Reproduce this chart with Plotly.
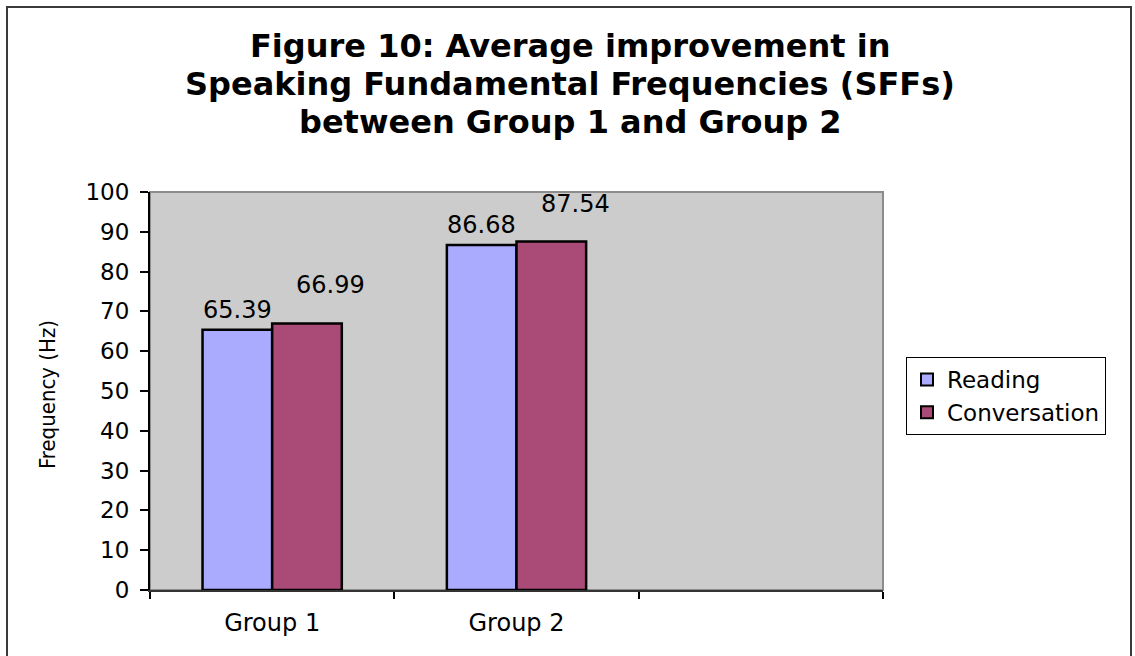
import plotly.graph_objects as go

# Chart data
groups = ["Group 1", "Group 2"]
axis_categories = ["Group 1", "Group 2", " "]
series_names = ["Reading", "Conversation"]
reading = [65.39, 86.68]
conversation = [66.99, 87.54]
y_ticks = [0, 10, 20, 30, 40, 50, 60, 70, 80, 90, 100]
title_lines = [
    "Figure 10: Average improvement in",
    "Speaking Fundamental Frequencies (SFFs)",
    "between Group 1 and Group 2",
]

colors = {"Reading": "#AAAAFF", "Conversation": "#A94A77"}
FONT = "DejaVu Sans, Verdana, sans-serif"
TXT = 24
BARGAP = 0.43

W, H = 1135, 656
L, R, T, B = 150, 883, 192, 590  # plot area in pixels


def px_x(px):
    return (px - L) / (R - L)


def px_y(py):
    return (B - py) / (B - T)


fig = go.Figure()
for name, vals in zip(series_names, [reading, conversation]):
    fig.add_trace(go.Bar(
        name=name, x=groups, y=vals,
        marker=dict(color=colors[name], line=dict(color="#000000", width=2.5)),
        hoverinfo="x+y+name",
    ))

# value labels above each bar (reading centered, conversation set off to the right)
half = (1 - BARGAP) / 4
label_style = {"Reading": (0, 20), "Conversation": (24, 38)}
annotations = []
for s, (name, vals) in enumerate(zip(series_names, [reading, conversation])):
    dx, dy = label_style[name]
    for i, v in enumerate(vals):
        xc = i + (-half if s == 0 else half)
        annotations.append(dict(
            x=xc, y=v, xref="x", yref="y", text=f"{v:.2f}", showarrow=False,
            xanchor="center", yanchor="middle", xshift=dx, yshift=dy,
            font=dict(family=FONT, size=TXT, color="#000000"),
        ))

# three-line bold title with tight line spacing
for k, line in enumerate(title_lines):
    annotations.append(dict(
        x=px_x(570), y=px_y(46 + 38 * k), xref="paper", yref="paper", text=line,
        showarrow=False, xanchor="center", yanchor="middle",
        font=dict(family=FONT, size=32, color="#000000", weight="bold"),
    ))

# y axis title
annotations.append(dict(
    x=px_x(47), y=px_y(395), xref="paper", yref="paper", text="Frequency (Hz)",
    showarrow=False, textangle=-90, xanchor="center", yanchor="middle",
    font=dict(family="Liberation Sans Narrow, DejaVu Sans Condensed, Arial Narrow, sans-serif",
              size=22, color="#000000"),
))

shapes = [
    # outer chart frame
    dict(type="rect", xref="paper", yref="paper", x0=px_x(7), x1=px_x(1131),
         y0=px_y(662), y1=px_y(7), line=dict(color="#3A3A3A", width=2), layer="below"),
    # plot area border (top/right)
    dict(type="rect", xref="paper", yref="paper", x0=0, x1=1, y0=0, y1=1,
         line=dict(color="#8C8C8C", width=2), layer="below"),
]

fig.update_layout(
    width=W, height=H,
    margin=dict(l=L, r=W - R, t=T, b=H - B, pad=0),
    paper_bgcolor="#FFFFFF", plot_bgcolor="#CCCCCC",
    barmode="group", bargap=BARGAP, bargroupgap=0,
    legend=dict(
        x=px_x(906), y=px_y(357), xanchor="left", yanchor="top",
        bgcolor="#FFFFFF", bordercolor="#000000", borderwidth=1,
        font=dict(family=FONT, size=TXT - 1, color="#000000"),
        itemsizing="constant", tracegroupgap=0,
    ),
    xaxis=dict(
        type="category", categoryorder="array", categoryarray=axis_categories,
        range=[-0.5, 2.5], tickson="boundaries", ticks="outside", ticklen=7,
        tickwidth=1.5, tickcolor="#000000", ticklabelstandoff=10,
        showline=True, linecolor="#333333", linewidth=2, showgrid=False,
        tickfont=dict(family=FONT, size=TXT, color="#000000"), zeroline=False,
    ),
    yaxis=dict(
        range=[0, 100], tickvals=y_ticks, ticks="outside", ticklen=8,
        tickwidth=1.5, tickcolor="#000000", ticklabelstandoff=6,
        showline=True, linecolor="#000000", linewidth=2, showgrid=False,
        zeroline=False, tickfont=dict(family=FONT, size=TXT - 1, color="#000000"),
    ),
    annotations=annotations, shapes=shapes, showlegend=True,
)

fig.write_html("out.html")
